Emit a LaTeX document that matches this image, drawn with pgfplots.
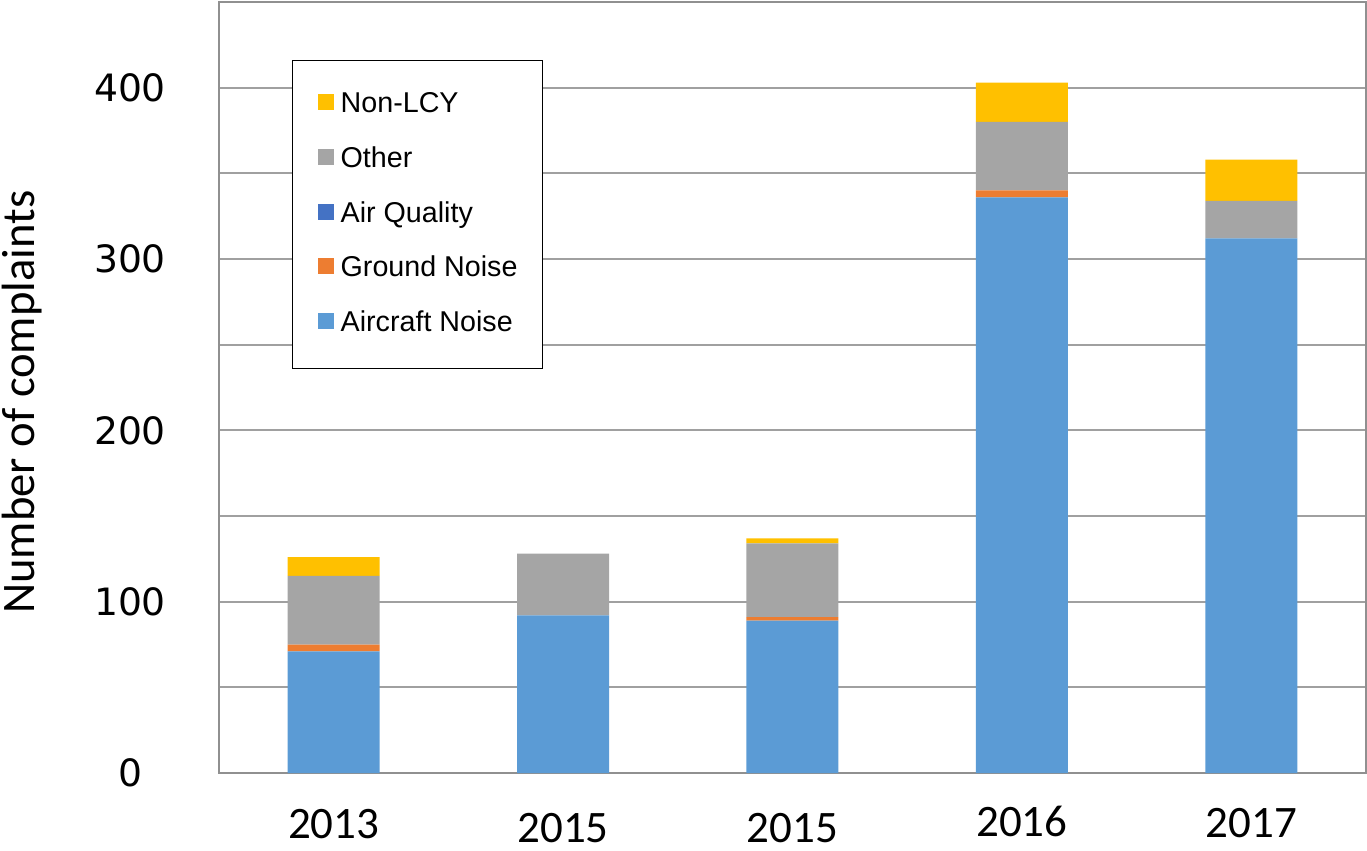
\documentclass[border=0pt]{standalone}
\usepackage{fontspec}
\setmainfont{Carlito}
\newfontfamily\dv{DejaVu Sans}
\newfontfamily\lib{Liberation Sans}
\usepackage{pgfplots}
\pgfplotsset{compat=1.18}
\definecolor{cAir}{HTML}{5B9BD5}
\definecolor{cGround}{HTML}{ED7D31}
\definecolor{cAQ}{HTML}{4472C4}
\definecolor{cOther}{HTML}{A5A5A5}
\definecolor{cNon}{HTML}{FFC000}
\definecolor{gridc}{HTML}{A0A0A0}
\begin{document}
\begin{tikzpicture}
\begin{axis}[
  ybar stacked,
  scale only axis,
  width=344.1pt, height=231.3pt,
  xmin=-0.5, xmax=4.5,
  ymin=0, ymax=450,
  bar width=27.6pt,
  xtick={0,1,2,3,4},
  xticklabels={2013,\raisebox{-1.2pt}{2015},\raisebox{-1.2pt}{2015},\raisebox{0.6pt}{2016},\raisebox{0.3pt}{2017}},
  xticklabel style={anchor=base, yshift=-19.5pt, font=\fontsize{13.5}{16}\selectfont},
  ytick={0,50,...,450},
  yticklabels={0,,100,,200,,300,,400,},
  yticklabel style={anchor=center, xshift=-26.7pt, font=\dv\fontsize{11.3}{13}\selectfont},
  major tick length=0pt,
  ymajorgrids,
  grid style={gridc, line width=0.6pt},
  axis line style={gridc!90!black, line width=0.6pt},
  every axis y label/.style={at={(rel axis cs:0,0.481)}, rotate=90, anchor=center, yshift=59.1pt, font=\fontsize{14}{17}\selectfont},
  ylabel={Number of complaints},
  reverse legend,
  legend cell align=left,
  legend image code/.code={\fill[#1] (0pt,-1.5pt) rectangle (4.8pt,3.3pt);},
  legend style={at={(0.0636,0.9248)}, anchor=north west, draw=black, line width=0.45pt, fill=white,
    font=\lib\fontsize{8.6}{10}\selectfont, inner xsep=7.5pt, inner ysep=9.3pt, row sep=8.3pt, column sep=2.1pt,
    nodes={inner sep=0pt, text height=6.3pt, text depth=1.8pt}},
]
\addplot[fill=cAir, draw=none] coordinates {(0,71) (1,92) (2,89) (3,336) (4,312)};
\addplot[fill=cGround, draw=none] coordinates {(0,4) (1,0) (2,2) (3,4) (4,0)};
\addplot[fill=cAQ, draw=none] coordinates {(0,0) (1,0) (2,0) (3,0) (4,0)};
\addplot[fill=cOther, draw=none] coordinates {(0,40) (1,36) (2,43) (3,40) (4,22)};
\addplot[fill=cNon, draw=none] coordinates {(0,11) (1,0) (2,3) (3,23) (4,24)};
\legend{Aircraft Noise, Ground Noise, Air Quality, Other, Non-LCY}
\end{axis}
\pgfresetboundingbox
\path[use as bounding box] (-65.7pt,-23.1pt) rectangle (344.4pt,231.9pt);
\end{tikzpicture}
\end{document}
